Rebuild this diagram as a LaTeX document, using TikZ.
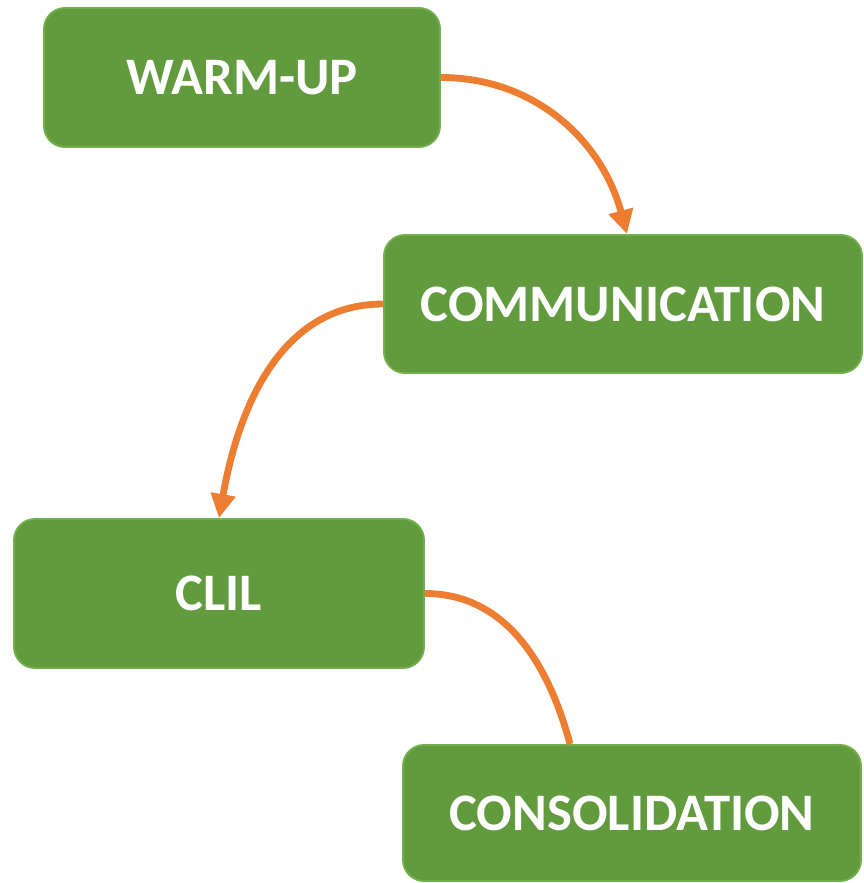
\documentclass[tikz,border=0pt]{standalone}
\usepackage{fontspec}
\setmainfont{Carlito}
\usetikzlibrary{arrows.meta}
\definecolor{boxgreen}{HTML}{629A3E}
\definecolor{boxline}{HTML}{72AE4A}
\definecolor{arroworange}{HTML}{ED7D31}
\begin{document}
\begin{tikzpicture}[x=0.02cm,y=-0.02cm]
    \tikzstyle{stage} = [rectangle, rounded corners=0.42cm, fill=boxgreen, draw=boxline, line width=1.1pt, text=white, font=\fontsize{30}{36}\selectfont\bfseries, inner sep=0pt, text centered]
    \tikzstyle{flow} = [arroworange, line width=3.9pt]

      \useasboundingbox (0,0) rectangle (864,883);

      \draw
        (242, 77.5) node[stage, minimum width=7.92cm, minimum height=2.78cm] (warmup){WARM-UP}
        (623, 304) node[stage, minimum width=9.56cm, minimum height=2.76cm] (comm){COMMUNICATION}
        (219, 593.5) node[stage, minimum width=8.2cm, minimum height=2.98cm] (clil){CLIL}
        (632, 813) node[stage, minimum width=9.16cm, minimum height=2.72cm] (consol){CONSOLIDATION};

      \begin{scope}[-]
        \draw[flow, -{Triangle[length=0.48cm,width=0.48cm]}] (warmup.east) to[out=0, in=105] ([xshift=0.08cm]comm.north);
        \draw[flow, -{Triangle[length=0.48cm,width=0.48cm]}] (comm.west) to[out=180, in=80] (clil.north);
        \draw[flow] (clil.east) to[out=0, in=105] ([xshift=-1.24cm]consol.north);
      \end{scope}
    \end{tikzpicture}
\end{document}
